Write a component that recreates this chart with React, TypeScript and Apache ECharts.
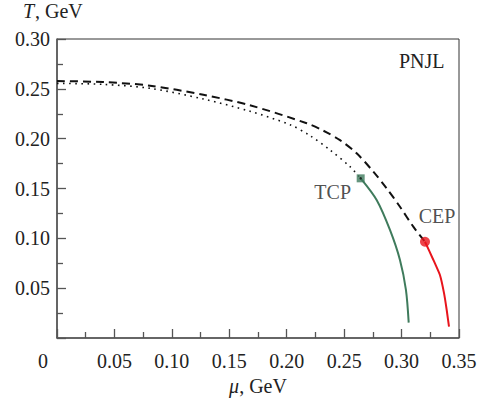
import React, { useEffect, useRef } from "react";
import * as echarts from "echarts";

const xTicks = [0, 0.05, 0.1, 0.15, 0.2, 0.25, 0.3, 0.35];
const yTicks = [0, 0.05, 0.1, 0.15, 0.2, 0.25, 0.3];

// crossover boundary (dashed), ends at CEP
const dashedMu = [0, 0.04, 0.081, 0.1274, 0.168, 0.2174, 0.2319, 0.2464, 0.2609, 0.2754, 0.287, 0.2986, 0.3102, 0.3204];
const dashedT = [0.2578, 0.2568, 0.2532, 0.2440, 0.2335, 0.2155, 0.208, 0.1985, 0.1853, 0.1669, 0.1502, 0.1317, 0.1117, 0.0966];

// dotted boundary, ends at TCP
const dottedMu = [0, 0.04, 0.081, 0.1274, 0.168, 0.2029, 0.2203, 0.2377, 0.2551, 0.2644];
const dottedT = [0.2555, 0.2545, 0.2505, 0.2398, 0.2275, 0.214, 0.203, 0.1886, 0.1719, 0.1602];

// first-order line from TCP (green)
const greenMu = [0.2644, 0.2783, 0.2899, 0.2986, 0.3038, 0.3062];
const greenT = [0.1602, 0.1385, 0.1084, 0.0783, 0.0482, 0.0154];

// first-order line from CEP (red)
const redMu = [0.3204, 0.3277, 0.3334, 0.337, 0.3393, 0.3413];
const redT = [0.0966, 0.0783, 0.0632, 0.0448, 0.0281, 0.0113];

const tcp = [0.2644, 0.1602];
const cep = [0.3204, 0.0966];

const zip = (a: number[], b: number[]) => a.map((v, i) => [v, b[i]]);

const FONT = "'Liberation Serif', 'Times New Roman', serif";
const GREEN = "#3f7b5c";
const RED = "#e8141c";
const FS = 20;

export default function App() {
  const ref = useRef<HTMLDivElement>(null);
  useEffect(() => {
    if (!ref.current) return;
    const chart = echarts.init(ref.current, undefined, { renderer: "svg" });
    chart.setOption({
      animation: false,
      backgroundColor: "#fff",
      textStyle: { fontFamily: FONT },
      grid: { left: 57, right: 24, top: 39, bottom: 65, show: true, borderColor: "#333", borderWidth: 1 },
      xAxis: {
        type: "value",
        min: xTicks[0],
        max: xTicks[xTicks.length - 1],
        interval: 0.05,
        name: "{i|μ}{n|, GeV}",
        nameLocation: "middle",
        nameGap: 37,
        nameTextStyle: {
          rich: {
            i: { fontFamily: FONT, fontStyle: "italic", fontSize: FS, color: "#222" },
            n: { fontFamily: FONT, fontSize: FS, color: "#222" },
          },
        },
        axisLine: { show: true, lineStyle: { color: "#555", width: 1.5 } },
        axisTick: { show: true, inside: true, length: 9, lineStyle: { color: "#555", width: 1.3 } },
        minorTick: { show: true, splitNumber: 2, length: 6, lineStyle: { color: "#555", width: 1.3 } },
        splitLine: { show: false },
        axisLabel: {
          margin: 13,
          fontFamily: FONT,
          fontSize: FS,
          color: "#222",
          showMaxLabel: true,
          formatter: (v: number) => (v === 0 ? "{z|0}" : v.toFixed(2)),
          rich: { z: { fontFamily: FONT, fontSize: FS, color: "#222", padding: [0, 28, 0, 0] } },
        },
      },
      yAxis: {
        type: "value",
        min: yTicks[0],
        max: yTicks[yTicks.length - 1],
        interval: 0.05,
        axisLine: { show: true, lineStyle: { color: "#555", width: 1.5 } },
        axisTick: { show: true, inside: true, length: 9, lineStyle: { color: "#555", width: 1.3 } },
        minorTick: { show: true, splitNumber: 2, length: 6, lineStyle: { color: "#555", width: 1.3 } },
        splitLine: { show: false },
        axisLabel: {
          margin: 7,
          fontFamily: FONT,
          fontSize: FS,
          color: "#222",
          showMaxLabel: true,
          formatter: (v: number) => (v === 0 ? "" : v.toFixed(2)),
        },
      },
      graphic: [
        {
          type: "text",
          x: 23,
          y: 1,
          style: {
            text: "T",
            align: "left",
            verticalAlign: "top",
            fontFamily: FONT,
            fontStyle: "italic",
            fontSize: FS,
            fill: "#222",
          },
        },
        {
          type: "text",
          x: 35,
          y: 1,
          style: {
            text: ", GeV",
            align: "left",
            verticalAlign: "top",
            fontFamily: FONT,
            fontSize: FS,
            fill: "#222",
          },
        },
        {
          type: "text",
          x: 399,
          y: 51,
          style: { text: "PNJL", align: "left", verticalAlign: "top", fontFamily: FONT, fontSize: FS, fill: "#222" },
        },
      ],
      series: [
        {
          type: "line",
          name: "crossover",
          data: zip(dashedMu, dashedT),
          showSymbol: false,
          smooth: 0.3,
          lineStyle: { color: "#111", width: 2, type: [8, 5] },
          z: 2,
        },
        {
          type: "line",
          name: "dotted",
          data: zip(dottedMu, dottedT),
          showSymbol: false,
          smooth: 0.3,
          lineStyle: { color: "#111", width: 1.6, type: [1.6, 4.5] },
          z: 2,
        },
        {
          type: "line",
          name: "green",
          data: zip(greenMu, greenT),
          showSymbol: false,
          smooth: 0.3,
          lineStyle: { color: GREEN, width: 2 },
          z: 3,
        },
        {
          type: "line",
          name: "red",
          data: zip(redMu, redT),
          showSymbol: false,
          smooth: 0.1,
          lineStyle: { color: RED, width: 2 },
          z: 3,
        },
        {
          type: "scatter",
          name: "TCP",
          data: [tcp],
          symbol: "rect",
          symbolSize: 8,
          itemStyle: { color: GREEN },
          label: {
            show: true,
            formatter: "TCP",
            position: "inside",
            offset: [-28, 14],
            fontFamily: FONT,
            fontSize: FS,
            color: "#222",
          },
          z: 4,
        },
        {
          type: "scatter",
          name: "TCPdot",
          data: [tcp],
          symbol: "circle",
          symbolSize: 2.5,
          itemStyle: { color: "#111" },
          z: 5,
        },
        {
          type: "scatter",
          name: "CEP",
          data: [cep],
          symbol: "circle",
          symbolSize: 10,
          itemStyle: { color: RED },
          label: {
            show: true,
            formatter: "CEP",
            position: "inside",
            offset: [12, -26],
            fontFamily: FONT,
            fontSize: FS,
            color: "#222",
          },
          z: 4,
        },
      ],
    });
    return () => chart.dispose();
  }, []);
  return <div ref={ref} style={{ width: 483, height: 403, position: "absolute", left: 0, top: 0 }} />;
}
